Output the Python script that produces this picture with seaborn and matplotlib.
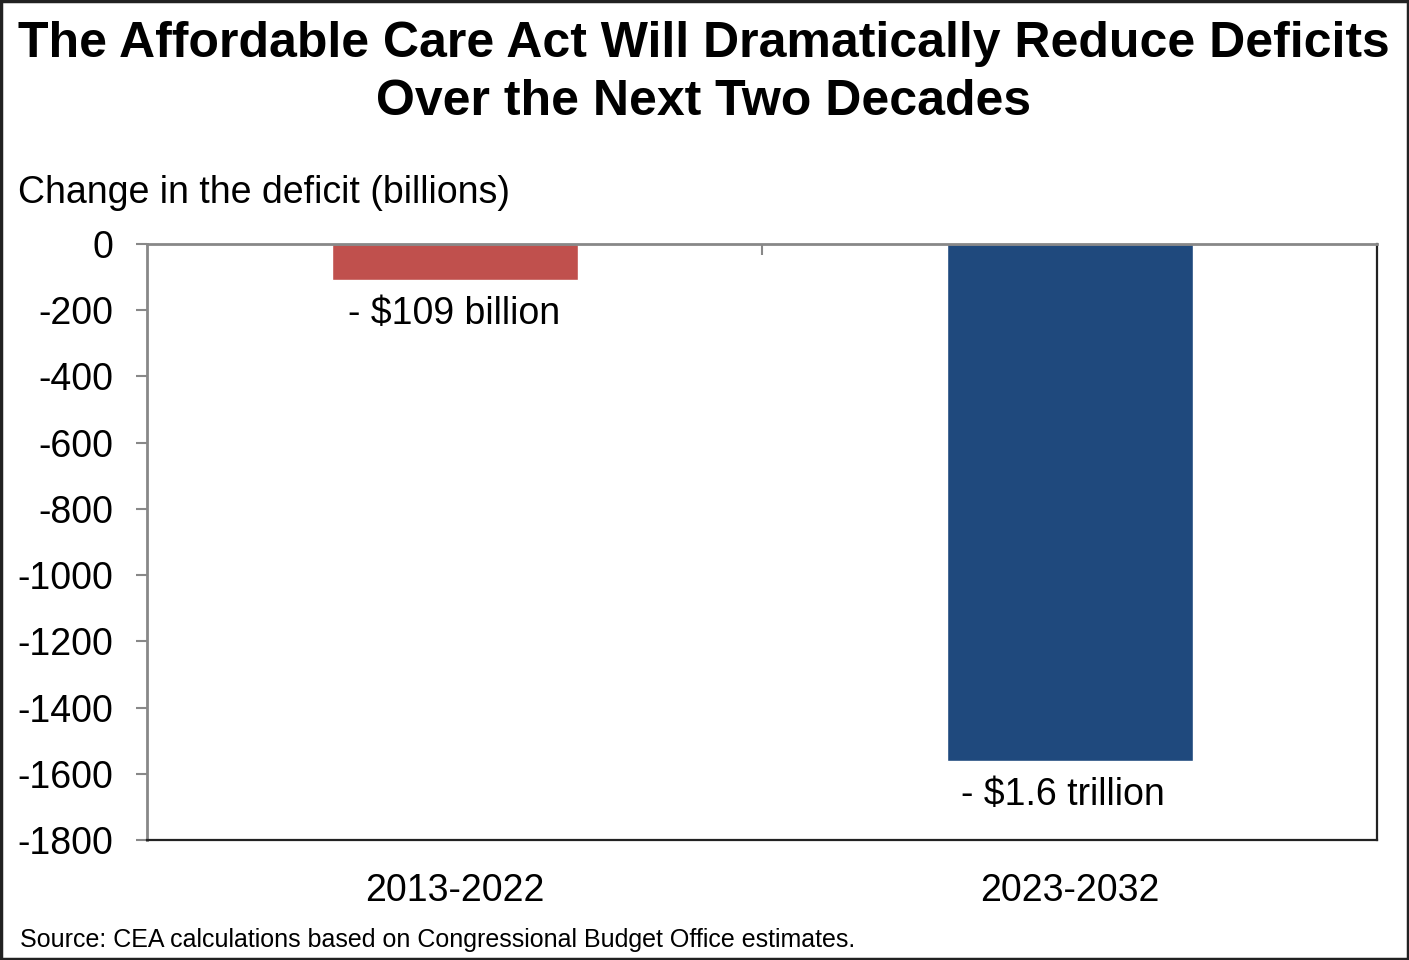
import matplotlib
matplotlib.use("Agg")
import matplotlib.pyplot as plt
import seaborn as sns
import pandas as pd
from matplotlib.patches import Rectangle
from matplotlib.ticker import FixedLocator

periods = ["2013-2022", "2023-2032"]
deficit_change = [-109, -1560]
bar_labels = ["- $109 billion", "- $1.6 trillion"]
bar_colors = ["#C0504D", "#1F497D"]
yticks = [0, -200, -400, -600, -800, -1000, -1200, -1400, -1600, -1800]

title = "The Affordable Care Act Will Dramatically Reduce Deficits\nOver the Next Two Decades"
ylabel = "Change in the deficit (billions)"
source = "Source: CEA calculations based on Congressional Budget Office estimates."

sns.set_theme(style="white")
plt.rcParams["font.family"] = ["Liberation Sans", "DejaVu Sans"]
plt.rcParams["axes.unicode_minus"] = False
plt.rcParams["text.color"] = "black"
plt.rcParams["xtick.labelcolor"] = "black"
plt.rcParams["ytick.labelcolor"] = "black"

df = pd.DataFrame({"period": periods, "value": deficit_change})

fig = plt.figure(figsize=(14.09, 9.6), dpi=100)
ax = fig.add_axes([147/1409, 1-840/960, (1377-147)/1409, (840-244)/960])

sns.barplot(data=df, x="period", y="value", hue="period", palette=bar_colors,
            width=0.4, legend=False, ax=ax, saturation=1)

ax.set_xlim(-0.5, 1.5)
ax.set_ylim(-1800, 0)
ax.set_yticks(yticks)
ax.set_yticklabels([str(v) for v in yticks], fontsize=27, color="black")
ax.set_xlabel("")
ax.set_ylabel("")
ax.tick_params(axis="x", labelsize=27, length=0, pad=24, labelcolor="black")
ax.tick_params(axis="y", left=True, length=8, width=1.5, color="#888888",
               direction="out", pad=16, labelcolor="black")
ax.xaxis.set_minor_locator(FixedLocator([0.5]))
ax.tick_params(axis="x", which="minor", top=True, bottom=False, direction="in",
               length=8, width=1.5, color="#888888")

for side in ["left", "top"]:
    ax.spines[side].set_color("#888888")
    ax.spines[side].set_linewidth(2)
for side in ["right", "bottom"]:
    ax.spines[side].set_color("#222222")
    ax.spines[side].set_linewidth(1.6)
    ax.spines[side].set_visible(True)

for i, (v, lab) in enumerate(zip(deficit_change, bar_labels)):
    ax.annotate(lab, xy=(i, v), xytext=(-0.5 - 4.5 * i, -24.5), textcoords="offset points",
                ha="center", va="center", fontsize=27, color="black")

fig.text(704/1409, 1-73/960, title, ha="center", va="center", fontsize=36,
         fontweight="bold", linespacing=1.34, color="black")
fig.text(18/1409, 1-193/960, ylabel, ha="left", va="center", fontsize=27, color="black")
fig.text(20/1409, 1-940/960, source, ha="left", va="center", fontsize=18, color="black")

fig.patches.append(Rectangle((0.001, 0.0015), 0.998, 0.997, transform=fig.transFigure,
                             fill=False, edgecolor="#222222", linewidth=2.5))

fig.savefig("out.png", dpi=100)
